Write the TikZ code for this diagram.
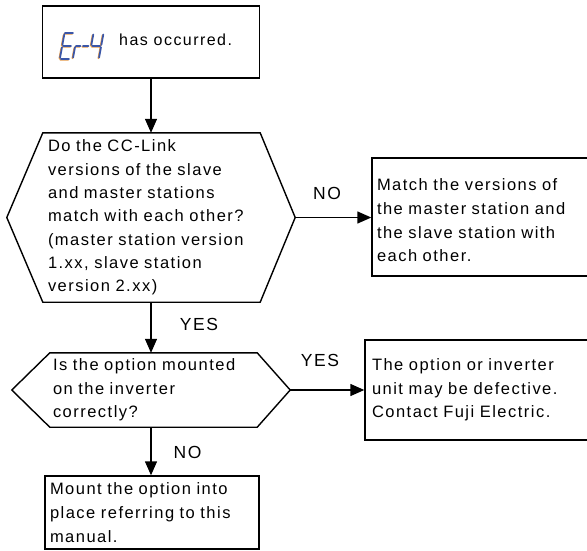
\documentclass[tikz,border=0pt]{standalone}
\usepackage{fontspec}
\setmainfont{Liberation Sans}[LetterSpace=9]
\usetikzlibrary{arrows.meta}
\definecolor{segblue}{HTML}{3A56A8}
\definecolor{segorange}{HTML}{E39A4A}
\tikzset{
  shapeline/.style={draw, line width=1.4pt, line join=miter},
  textbox/.style={draw, line width=1.4pt, inner sep=0pt, align=left,
    font=\fontsize{16.5}{23.7}\selectfont},
  hexnode/.style={inner sep=0pt, align=left, font=\fontsize{16.5}{23.3}\selectfont},
  lbl/.style={anchor=base, inner sep=0pt, font=\fontsize{17.5}{20}\selectfont},
  arr/.style={-{Triangle[length=14pt,width=12pt]}, line width=1.4pt},
  segs/.style={line width=1.7pt, line cap=round},
}
\begin{document}
\begin{tikzpicture}[x=1pt,y=-1pt]
\useasboundingbox (0,0) rectangle (587,550);
% start box
\node[textbox, minimum width=217pt, minimum height=72pt] (b1) at (151,42) {};
\node[anchor=base west, inner sep=0pt, font=\fontsize{16}{19}\selectfont] (t1) at (119,45) {has occurred.};
% seven-segment "Er-4"
\foreach \c/\dx/\dy in {segorange/-0.7/0.7, segblue/0/0}{
  \draw[segs, draw=\c, shift={(\dx,\dy)}]
    (65,33) -- (73,33)
    (64.3,34.5) -- (62.4,44.8)
    (63.5,46) -- (71,46)
    (62,47.3) -- (60.1,57.6)
    (61,59) -- (69,59)
    (76,46) -- (80.5,46)
    (75,47.3) -- (73.1,57.6)
    (83,46) -- (88.5,46)
    (93.3,34.5) -- (91.4,44.8)
    (92.5,46) -- (100,46)
    (103.3,34.5) -- (101.4,44.8)
    (101,47.3) -- (99.1,57.6);
}
% first decision
\node[hexnode, minimum width=288pt, minimum height=169pt, text width=206pt] (q1) at (151,217.5)
  {Do the CC-Link\\versions of the slave\\and master stations\\match with each other?\\(master station version\\1.xx, slave station\\version 2.xx)};
\draw[shapeline] (q1.west) -- ([xshift=36pt]q1.north west) -- ([xshift=-35pt]q1.north east)
  -- (q1.east) -- ([xshift=-35pt]q1.south east) -- ([xshift=36pt]q1.south west) -- cycle;
% NO result
\node[textbox, minimum width=220pt, minimum height=118pt, text width=210pt] (b2) at (482,217)
  {\rule{0pt}{19pt}Match the versions of\\the master station and\\the slave station with\\each other.};
% second decision
\node[hexnode, minimum width=278pt, minimum height=74pt, text width=196pt,
  font=\fontsize{16.5}{23.7}\selectfont] (q2) at (151,390)
  {Is the option mounted\\on the inverter\\correctly?};
\draw[shapeline] (q2.west) -- ([xshift=38pt]q2.north west) -- ([xshift=-33pt]q2.north east)
  -- (q2.east) -- ([xshift=-33pt]q2.south east) -- ([xshift=38pt]q2.south west) -- cycle;
% YES result
\node[textbox, minimum width=227pt, minimum height=100pt, text width=213pt] (b3) at (478.5,390)
  {The option or inverter\\unit may be defective.\\Contact Fuji Electric.};
% NO result 2
\node[textbox, minimum width=214pt, minimum height=73pt, text width=204pt] (b4) at (152,512.5)
  {Mount the option into\\place referring to this\\manual.};
% connectors
\draw[arr] (b1.south -| q1.north) -- (q1.north);
\draw[arr] (q1.south) -- (q2.north);
\draw[arr] (q2.south) -- (q2.south |- b4.north);
\draw[arr] (q1.east) -- (q1.east -| b2.west);
\draw[arr] (q2.east) -- (q2.east -| b3.west);
% labels
\node[lbl] (lno1) at (327,199) {NO};
\node[lbl] (lyes1) at (199,330) {YES};
\node[lbl] (lyes2) at (320,366) {YES};
\node[lbl] (lno2) at (187.5,458) {NO};
\end{tikzpicture}
\end{document}
